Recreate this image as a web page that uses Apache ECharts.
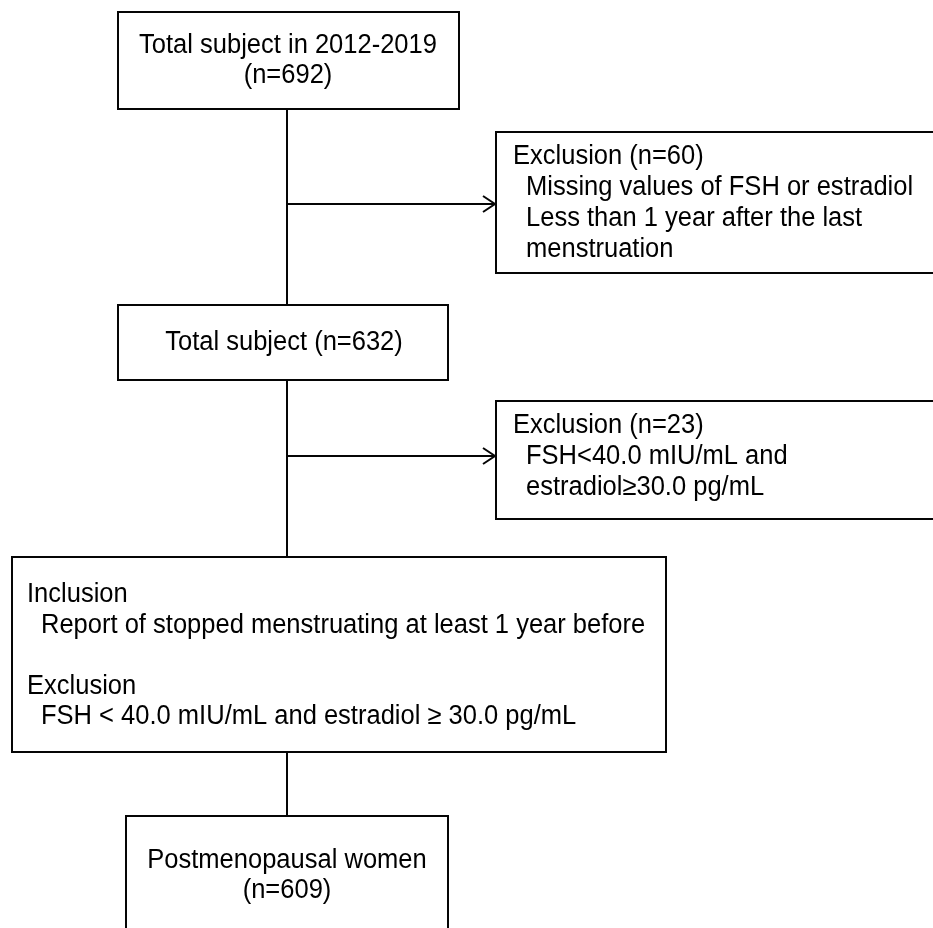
<!DOCTYPE html>
<html>
<head>
<meta charset="utf-8">
<script src="https://cdn.jsdelivr.net/npm/echarts@6/dist/echarts.min.js"></script>
<style>
html,body{margin:0;padding:0;background:#fff;}
#chart{width:933px;height:928px;}
</style>
</head>
<body>
<div id="chart"></div>
<script>
// ---- data ----
const stageNames = ['Total subject in 2012-2019', 'Total subject', 'Postmenopausal women'];
const stageCounts = [692, 632, 609];
const exclusionCounts = [60, 23];
const exclusionReasons1 = ['Missing values of FSH or estradiol', 'Less than 1 year after the last', 'menstruation'];
const exclusionReasons2 = ['FSH<40.0 mIU/mL and', 'estradiol\u226530.0 pg/mL'];
const inclusionCriteria = ['Report of stopped menstruating at least 1 year before'];
const exclusionCriteria = ['FSH < 40.0 mIU/mL and estradiol \u2265 30.0 pg/mL'];

// ---- layout (positions in a 933 x 928 value space) ----
const W = 933, H = 928;
const boxes = [
  { r: [118, 12, 459, 109], lines: [
      { t: stageNames[0], x: 288, y: 46, a: 'center' },
      { t: '(n=' + stageCounts[0] + ')', x: 288, y: 76, a: 'center' } ] },
  { r: [496, 132, 940, 273], lines: [
      { t: 'Exclusion (n=' + exclusionCounts[0] + ')', x: 513, y: 157, a: 'left' },
      { t: exclusionReasons1[0], x: 526, y: 188, a: 'left' },
      { t: exclusionReasons1[1], x: 526, y: 219, a: 'left' },
      { t: exclusionReasons1[2], x: 526, y: 250, a: 'left' } ] },
  { r: [118, 305, 448, 380], lines: [
      { t: stageNames[1] + ' (n=' + stageCounts[1] + ')', x: 284, y: 343, a: 'center' } ] },
  { r: [496, 401, 940, 519], lines: [
      { t: 'Exclusion (n=' + exclusionCounts[1] + ')', x: 513, y: 426, a: 'left' },
      { t: exclusionReasons2[0], x: 526, y: 457, a: 'left' },
      { t: exclusionReasons2[1], x: 526, y: 488, a: 'left' } ] },
  { r: [12, 557, 666, 752], lines: [
      { t: 'Inclusion', x: 27, y: 595, a: 'left' },
      { t: inclusionCriteria[0], x: 41, y: 626, a: 'left' },
      { t: 'Exclusion', x: 27, y: 687, a: 'left' },
      { t: exclusionCriteria[0], x: 41, y: 717, a: 'left' } ] },
  { r: [126, 816, 448, 940], lines: [
      { t: stageNames[2], x: 287, y: 861, a: 'center' },
      { t: '(n=' + stageCounts[2] + ')', x: 287, y: 891, a: 'center' } ] }
];
const connectors = [
  { p: [[287, 109], [287, 305]], arrow: false },
  { p: [[287, 204], [496, 204]], arrow: true },
  { p: [[287, 380], [287, 557]], arrow: false },
  { p: [[287, 456], [496, 456]], arrow: true },
  { p: [[287, 752], [287, 816]], arrow: false }
];

const FONT = '27px "Liberation Sans", Arial, sans-serif';
const TEXT_SCALE_X = 0.945;
const INK = '#050505';

const chart = echarts.init(document.getElementById('chart'), null, { renderer: 'canvas' });

chart.setOption({
  backgroundColor: '#ffffff',
  animation: false,
  grid: { left: 0, right: 0, top: 0, bottom: 0 },
  xAxis: { type: 'value', min: 0, max: W, show: false },
  yAxis: { type: 'value', min: 0, max: H, inverse: true, show: false },
  series: [
    {
      type: 'custom',
      coordinateSystem: 'cartesian2d',
      clip: false,
      data: boxes.map((b, i) => [b.r[0], b.r[1], b.r[2], b.r[3], i]),
      renderItem: function (params, api) {
        const b = boxes[params.dataIndex];
        const p1 = api.coord([api.value(0), api.value(1)]);
        const p2 = api.coord([api.value(2), api.value(3)]);
        const children = [{
          type: 'rect',
          shape: { x: p1[0], y: p1[1], width: p2[0] - p1[0], height: p2[1] - p1[1] },
          style: { fill: '#ffffff', stroke: INK, lineWidth: 2 }
        }];
        b.lines.forEach(function (ln) {
          const c = api.coord([ln.x, ln.y]);
          children.push({
            type: 'text',
            x: c[0], y: c[1],
            scaleX: TEXT_SCALE_X, scaleY: 1,
            style: {
              text: ln.t, fill: '#000000', font: FONT,
              align: ln.a, verticalAlign: 'middle',
              textAlign: ln.a, textVerticalAlign: 'middle'
            }
          });
        });
        return { type: 'group', children: children };
      }
    },
    {
      type: 'custom',
      coordinateSystem: 'cartesian2d',
      clip: false,
      z: 1,
      data: connectors.map((c, i) => [c.p[0][0], c.p[0][1], c.p[1][0], c.p[1][1], c.arrow ? 1 : 0]),
      renderItem: function (params, api) {
        const a = api.coord([api.value(0), api.value(1)]);
        const b = api.coord([api.value(2), api.value(3)]);
        const children = [{
          type: 'line',
          shape: { x1: a[0], y1: a[1], x2: b[0], y2: b[1] },
          style: { stroke: INK, lineWidth: 2 }
        }];
        if (api.value(4) === 1) {
          children.push({
            type: 'polyline',
            shape: { points: [[b[0] - 13, b[1] - 8], [b[0] - 1, b[1]], [b[0] - 13, b[1] + 8]] },
            style: { stroke: INK, lineWidth: 2, fill: null }
          });
        }
        return { type: 'group', children: children };
      }
    }
  ]
});
</script>
</body>
</html>
